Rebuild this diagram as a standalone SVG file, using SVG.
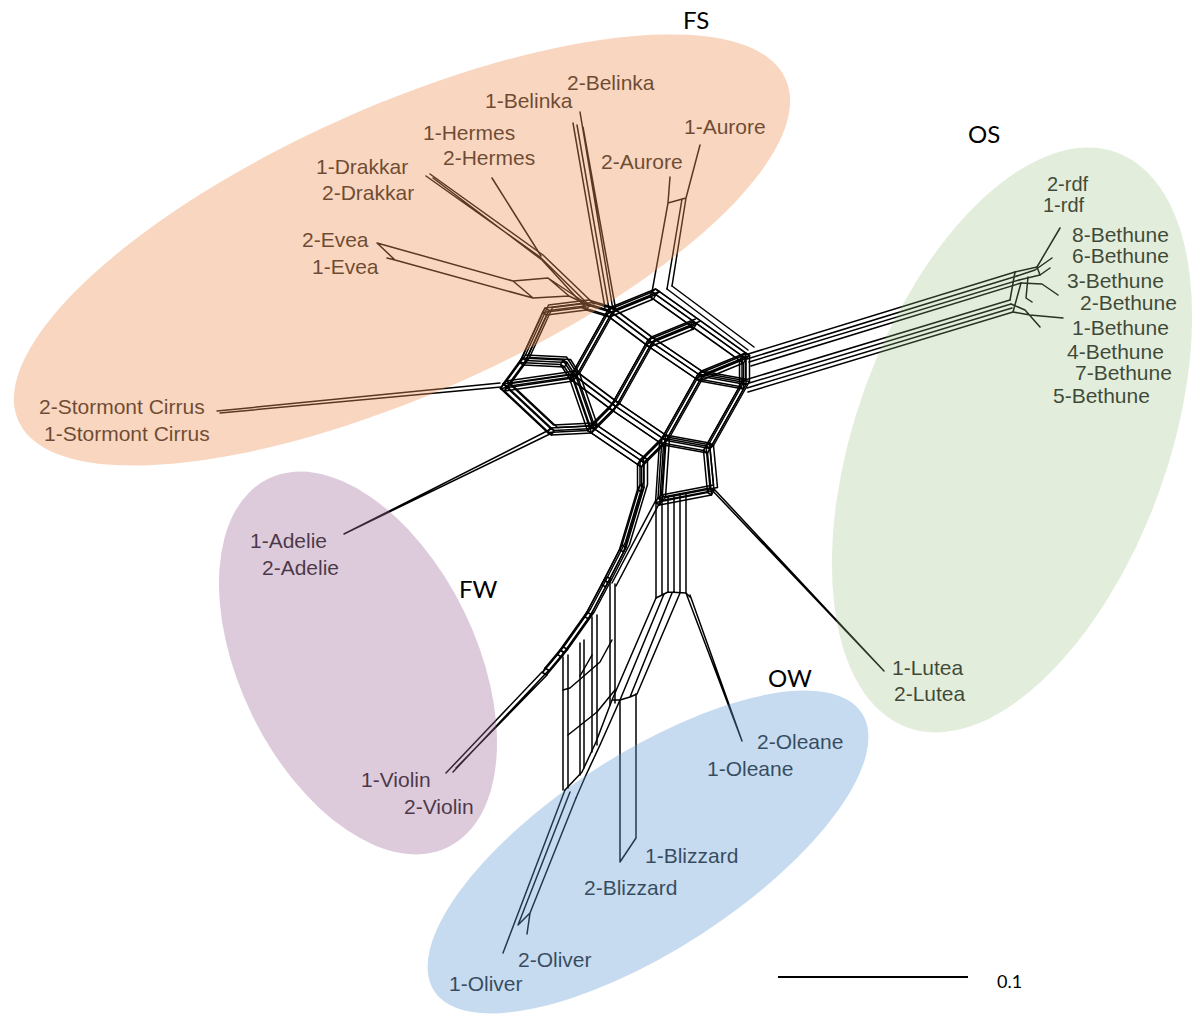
<svg xmlns="http://www.w3.org/2000/svg" width="1195" height="1017" viewBox="0 0 1195 1017">
<style>
.ln{fill:none;stroke:#000;stroke-width:1.5;stroke-linejoin:round;stroke-linecap:round}
.tx{font-family:"Liberation Sans",Arial,sans-serif;font-size:21px;fill:#1e1e1e}
.sm{font-size:20px}
.cl{font-family:Lato,"Open Sans","Liberation Sans",sans-serif;font-size:24px;fill:#000}
</style>
<defs>
<g id="core" class="ln">
<path d="M608,310 L652,292 L742,356 L698,374 L648,340 L608,310"/>
<path d="M648,340 L692,322"/>
<path d="M698,374 L742,382 L742,356"/>
<path d="M608,310 L572,374 L612,404 L648,340"/>
<path d="M612,404 L662,438 L698,374"/>
<path d="M662,438 L706,446 L742,382"/>
<path d="M612,404 L590,426 L640,460 L662,438"/>
<path d="M572,374 L590,426"/>
<path d="M503,384 L572,374"/>
<path d="M503,384 L550,428 L590,426"/>
<path d="M503,384 L522,358 L545,308 L585,303 L608,310"/>
<path d="M522,358 L563,360 L572,374"/>
<path d="M662,438 L658,498 L710,488 L706,446"/>
<path d="M640,460 L640,485 L622,545 L604,580 L587,612 L560,650 L545,668"/>
</g>
<path id="cell" class="ln" d="M0,0 l4,2.5 l-2.5,4.5 l-4,-2.5 z"/>
<path id="cell2" class="ln" d="M0,0 l3.5,-3 l4,2.5 l-3.5,3 z"/>
</defs>

<g id="connectors">
<use href="#core"/>
<use href="#core" transform="translate(4,2.5)"/>
<use href="#core" transform="translate(-2.5,4.5)"/>
<use href="#core" transform="translate(1.5,7)"/>
<use href="#core" transform="translate(3.5,-3)"/>
<use href="#core" transform="translate(7.5,-0.5)"/>
<g id="rungs">
<use href="#cell" x="608" y="310"/><use href="#cell" x="652" y="292"/><use href="#cell" x="742" y="356"/>
<use href="#cell" x="698" y="374"/><use href="#cell" x="648" y="340"/><use href="#cell" x="692" y="322"/>
<use href="#cell" x="742" y="382"/><use href="#cell" x="572" y="374"/><use href="#cell" x="612" y="404"/>
<use href="#cell" x="662" y="438"/><use href="#cell" x="706" y="446"/><use href="#cell" x="590" y="426"/>
<use href="#cell" x="640" y="460"/><use href="#cell" x="503" y="384"/><use href="#cell" x="550" y="428"/>
<use href="#cell" x="522" y="358"/><use href="#cell" x="545" y="308"/><use href="#cell" x="585" y="303"/>
<use href="#cell" x="563" y="360"/><use href="#cell" x="658" y="498"/><use href="#cell" x="710" y="488"/>
<use href="#cell" x="640" y="485"/><use href="#cell" x="622" y="545"/><use href="#cell" x="604" y="580"/>
<use href="#cell" x="587" y="612"/><use href="#cell" x="560" y="650"/><use href="#cell" x="545" y="668"/>
<use href="#cell2" x="608" y="310"/><use href="#cell2" x="652" y="292"/><use href="#cell2" x="742" y="356"/>
<use href="#cell2" x="698" y="374"/><use href="#cell2" x="648" y="340"/><use href="#cell2" x="612" y="404"/>
<use href="#cell2" x="662" y="438"/><use href="#cell2" x="572" y="374"/><use href="#cell2" x="706" y="446"/>
<use href="#cell2" x="640" y="460"/><use href="#cell2" x="590" y="426"/><use href="#cell2" x="503" y="384"/>
<use href="#cell2" x="658" y="498"/><use href="#cell2" x="604" y="580"/><use href="#cell2" x="560" y="650"/>
</g>
<g id="fs-edges" class="ln">
<path d="M573,123 L605,308 M577,125 L609,309 M580,112 L613,310 M583,127 L616,311"/>
<path d="M670,177 L668,203 L652,292 M700,145 L686,198 L672,286 M668,203 L686,198 M682,199 L667,289"/>
<path d="M667,289 L748,350 M672,286 L754,347"/>
<path d="M426,176 L540,257 L590,306 M430,174 L543,255 L594,304 M433,178 L542,260 L587,309"/>
<path d="M492,178 L541,256"/>
<path d="M377,243 L513,281 L548,278 L590,306 M377,243 L395,260 L533,298 L569,296 L590,306 M387,258 L395,260 M513,281 L533,298 M548,278 L569,296"/>
<path d="M217,411 L500,383 M220,413 L501,387"/>
</g>
<g id="fw-edges" class="ln">
<path d="M344,534 L551,429 M350,531 L554,432"/>
<path d="M542,672 L446,773 M549,670 L453,772 M547,675 L456,768"/>
</g>
<g id="os-edges" class="ln">
<path d="M745,355 L1015,272 M747,359 L1017,276 M749,362 L1019,280 M751,366 L1021,283"/>
<path d="M745,380 L1010,300 M746,384 L1011,304 M747,388 L1012,308 M748,392 L1013,312"/>
<path d="M1015,272 L1037,267 L1060,228 M1017,276 L1035,270 L1052,258 M1019,280 L1040,275 L1050,268 M1021,283 L1042,284 L1058,295 M1013,312 L1030,315 L1063,318 M1011,304 L1025,310 L1040,327"/>
<path d="M1015,272 L1010,300 M1021,283 L1013,312 M1028,277 L1026,298 L1032,302 M1037,267 L1040,275"/>
<path d="M710,488 L884,671 M714,489 L884,671"/>
</g>
<g id="ow-edges" class="ln">
<path d="M656,500 L656,598 M662,498 L662,595 M668,497 L668,592 M674,496 L674,592 M680,494 L680,592 M686,493 L686,593 M656,598 L668,592 L686,593 L690,597"/>
<path d="M686,593 L742,741 M690,595 L742,741"/>
<path d="M656,500 L612,583 M660,502 L616,586"/>
<path d="M656,598 L612,700 L596,742 L582,772 L565,790 M664,594 L620,700 M672,593 L630,697 M680,593 L637,694 M612,700 L620,700 L630,697 L637,694 M620,700 L600,745 L586,775 L576,798"/>
<path d="M620,700 L620,862 L636,838 M636,694 L636,838"/>
<path d="M610,582 L610,705 M615,584 L615,703 M592,617 L592,752 M597,615 L597,745 M580,643 L580,775 M584,640 L584,768 M563,657 L563,790 M568,655 L568,788"/>
<path d="M563,690 L570,688 L600,662 L612,640 M580,676 L592,655 M568,735 L597,712 L615,690"/>
<path d="M565,790 L503,953 M570,792 L518,925 L530,913 M576,798 L530,913 L527,934"/>
</g>
</g>

<g id="taxa">
<g id="taxa-FS">
<text class="tx" x="567" y="90">2-Belinka</text>
<text class="tx" x="485" y="108">1-Belinka</text>
<text class="tx" x="684" y="134">1-Aurore</text>
<text class="tx" x="423" y="140">1-Hermes</text>
<text class="tx" x="601" y="169">2-Aurore</text>
<text class="tx" x="443" y="165">2-Hermes</text>
<text class="tx" x="316" y="174">1-Drakkar</text>
<text class="tx" x="322" y="200">2-Drakkar</text>
<text class="tx" x="302" y="247">2-Evea</text>
<text class="tx" x="312" y="274">1-Evea</text>
<text class="tx" x="39" y="414">2-Stormont Cirrus</text>
<text class="tx" x="44" y="441">1-Stormont Cirrus</text>
</g>
<g id="taxa-OS">
<text class="tx sm" x="1047" y="191">2-rdf</text>
<text class="tx sm" x="1043" y="212">1-rdf</text>
<text class="tx" x="1072" y="242">8-Bethune</text>
<text class="tx" x="1072" y="263">6-Bethune</text>
<text class="tx" x="1067" y="288">3-Bethune</text>
<text class="tx" x="1080" y="310">2-Bethune</text>
<text class="tx" x="1072" y="335">1-Bethune</text>
<text class="tx" x="1067" y="359">4-Bethune</text>
<text class="tx" x="1075" y="380">7-Bethune</text>
<text class="tx" x="1053" y="403">5-Bethune</text>
<text class="tx" x="892" y="675">1-Lutea</text>
<text class="tx" x="894" y="701">2-Lutea</text>
</g>
<g id="taxa-FW">
<text class="tx" x="250" y="548">1-Adelie</text>
<text class="tx" x="262" y="575">2-Adelie</text>
<text class="tx" x="361" y="787">1-Violin</text>
<text class="tx" x="404" y="814">2-Violin</text>
</g>
<g id="taxa-OW">
<text class="tx" x="757" y="749">2-Oleane</text>
<text class="tx" x="707" y="776">1-Oleane</text>
<text class="tx" x="645" y="863">1-Blizzard</text>
<text class="tx" x="584" y="895">2-Blizzard</text>
<text class="tx" x="518" y="967">2-Oliver</text>
<text class="tx" x="449" y="991">1-Oliver</text>
</g>
</g>

<g id="clusters">
<g id="FS">
<ellipse cx="402" cy="250" rx="420" ry="144" transform="rotate(-24 402 250)" fill="#f09257" fill-opacity="0.38"/>
<text class="cl" x="683" y="29">FS</text>
</g>
<g id="OS">
<ellipse cx="1012" cy="440" rx="156" ry="306" transform="rotate(20 1012 440)" fill="#96be7d" fill-opacity="0.27"/>
<text class="cl" x="968" y="143">OS</text>
</g>
<g id="FW">
<ellipse cx="358" cy="663" rx="118" ry="205" transform="rotate(-26 358 663)" fill="#9d6a97" fill-opacity="0.35"/>
<text class="cl" x="459" y="598">FW</text>
</g>
<g id="OW">
<ellipse cx="648" cy="852" rx="255" ry="98" transform="rotate(-33 648 852)" fill="#619cd3" fill-opacity="0.36"/>
<text class="cl" x="768" y="687">OW</text>
</g>
</g>

<g id="scale-bar">
<line x1="778" y1="977" x2="968" y2="977" stroke="#000" stroke-width="2"/>
<text x="997" y="988" style="font-family:Lato,'Open Sans',sans-serif;font-size:18px;fill:#000">0.1</text>
</g>
</svg>
